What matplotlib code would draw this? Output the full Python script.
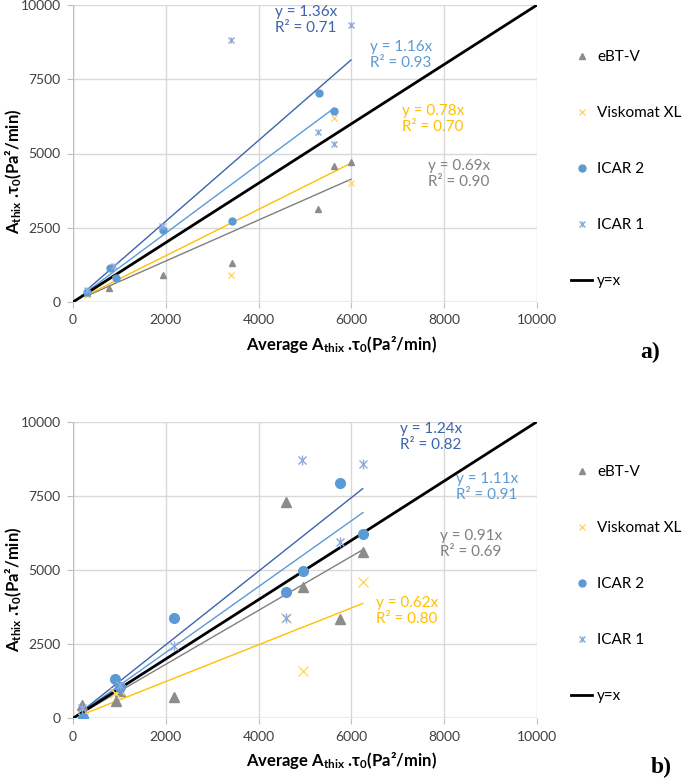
import numpy as np
import matplotlib
matplotlib.use("Agg")
import matplotlib.pyplot as plt
from matplotlib.lines import Line2D

plt.rcParams['font.family'] = ['Lato', 'DejaVu Sans']
plt.rcParams['mathtext.fontset'] = 'custom'
plt.rcParams['mathtext.rm'] = 'Lato'
plt.rcParams['mathtext.bf'] = 'Lato:bold'
plt.rcParams['mathtext.default'] = 'bf'

# ---- panel a) data ----
a_ebt_x = [300, 783, 1947, 3420, 5280, 5618, 5991]
a_ebt_y = [300, 460, 900, 1320, 3117, 4574, 4709]
a_visk_x = [300, 900, 3412, 5618, 5991]
a_visk_y = [250, 780, 908, 6188, 3991]
a_icar2_x = [300, 790, 927, 1947, 3420, 5294, 5618]
a_icar2_y = [350, 1132, 796, 2410, 2724, 7052, 6446]
a_icar1_x = [300, 876, 1918, 3412, 5280, 5618, 5991]
a_icar1_y = [390, 1200, 2567, 8812, 5740, 5325, 9316]
a_slopes = [0.69, 0.78, 1.16, 1.36]
a_r2 = [0.90, 0.70, 0.93, 0.71]

# ---- panel b) data ----
b_ebt_x = [194, 920, 1020, 2184, 4590, 4957, 5761, 6243]
b_ebt_y = [449, 584, 921, 719, 7303, 4438, 3348, 5596]
b_visk_x = [208, 912, 1020, 4590, 4950, 6243]
b_visk_y = [0, 843, 950, 3371, 1596, 4607]
b_icar2_x = [208, 912, 1020, 2177, 4590, 4950, 5747, 6250]
b_icar2_y = [0, 1315, 1067, 3371, 4270, 4978, 7921, 6213]
b_icar1_x = [194, 1020, 2177, 4590, 4943, 5761, 6243]
b_icar1_y = [337, 1124, 2438, 3371, 8708, 5955, 8562]
b_slopes = [0.91, 0.62, 1.11, 1.24]
b_r2 = [0.69, 0.80, 0.91, 0.82]

names = ['eBT-V', 'Viskomat XL', 'ICAR 2', 'ICAR 1']
mk_col = ['#8C8C8C', '#FFD966', '#5B9BD5', '#8EA9DB']
fit_col = ['#7F7F7F', '#FFC000', '#5B9BD5', '#3B64AD']
lab_col = ['#808080', '#FFC000', '#5B9BD5', '#3B64AD']

W, H = 685, 779
fig = plt.figure(figsize=(W / 100, H / 100), dpi=100)


def px_rect(l, t, r, b):
    return [l / W, 1 - b / H, (r - l) / W, (b - t) / H]


def draw_panel(ax, series, slopes, r2s, lab_pos, msize, legend_top, tag, tag_pos, ylab_y, xlab_y):
    ax.set_xlim(0, 10000)
    ax.set_ylim(0, 10000)
    ax.set_xticks(range(0, 10001, 2000))
    ax.set_yticks(range(0, 10001, 2500))
    ax.grid(True, color='#D9D9D9', lw=1)
    ax.set_axisbelow(True)
    for s in ax.spines.values():
        s.set_visible(False)
    ax.tick_params(length=4, color='#BFBFBF', labelsize=10, labelcolor='#404040', pad=5)
    ax.axvline(0, color='#BFBFBF', lw=1, zorder=1)
    ax.axhline(0, color='#BFBFBF', lw=1, zorder=1)

    # y = x
    ax.plot([0, 10000], [0, 10000], color='black', lw=2.0, zorder=3)

    handles = []
    for i, (xs, ys) in enumerate(series):
        xs = np.array(xs); ys = np.array(ys)
        xx = np.array([xs.min(), xs.max()])
        ax.plot(xx, slopes[i] * xx, color=fit_col[i], lw=1.0, zorder=2)
        if i == 0:
            ax.plot(xs, ys, ls='none', marker='^', ms=msize, color=mk_col[i], mec=mk_col[i], zorder=4)
            h = Line2D([], [], ls='none', marker='^', ms=4, color=mk_col[i])
        elif i == 1:
            ax.plot(xs, ys, ls='none', marker='x', ms=msize, color=mk_col[i], mew=1.0, zorder=4)
            h = Line2D([], [], ls='none', marker='x', ms=5, color=mk_col[i], mew=1.0)
        elif i == 2:
            ax.plot(xs, ys, ls='none', marker='o', ms=msize, color=mk_col[i], mec=mk_col[i], zorder=4)
            h = Line2D([], [], ls='none', marker='o', ms=5, color=mk_col[i])
        else:
            ax.plot(xs, ys, ls='none', marker='x', ms=msize - 1, color=mk_col[i], mew=1.0, zorder=4)
            ax.plot(xs, ys, ls='none', marker='|', ms=msize, color=mk_col[i], mew=1.0, zorder=4)
            h = (Line2D([], [], ls='none', marker='x', ms=4, color=mk_col[i], mew=1.0),
                 Line2D([], [], ls='none', marker='|', ms=5, color=mk_col[i], mew=1.0))
        handles.append(h)
        lx, ly = lab_pos[i]
        fig.text(lx / W, 1 - ly / H, 'y = %.2fx\nR² = %.2f' % (slopes[i], r2s[i]),
                 color=lab_col[i], fontsize=11, va='top', ha='left', linespacing=1.2)

    handles.append(Line2D([], [], color='black', lw=2.0))
    labels = names + ['y=x']
    fig.legend(handles, labels, loc='upper left', bbox_to_anchor=(571 / W, 1 - legend_top / H),
               frameon=False, fontsize=11, labelspacing=2.75, handlelength=1.4,
               handletextpad=0.3, borderpad=0, borderaxespad=0)

    ax.set_xlabel(r'Average A$_{thix}$ .τ$_0$(Pa²/min)', fontsize=12, fontweight='bold')
    ax.xaxis.set_label_coords(0.578, xlab_y)
    ax.set_ylabel(r'A$_{thix}$ .τ$_0$(Pa²/min)', fontsize=12, fontweight='bold')
    ax.yaxis.set_label_coords(-0.106, ylab_y)
    fig.text(tag_pos[0] / W, 1 - tag_pos[1] / H, tag, fontsize=17, fontweight='bold',
             family='Liberation Serif', ha='left', va='center')


ax_a = fig.add_axes(px_rect(73, 5, 537, 302))
draw_panel(ax_a,
           [(a_ebt_x, a_ebt_y), (a_visk_x, a_visk_y), (a_icar2_x, a_icar2_y), (a_icar1_x, a_icar1_y)],
           a_slopes, a_r2,
           [(428, 159), (402, 104), (370, 40), (275, 5)],
           5, 50, 'a)', (640, 352), 0.44, -0.108)

ax_b = fig.add_axes(px_rect(73, 421.7, 537, 718.3))
draw_panel(ax_b,
           [(b_ebt_x, b_ebt_y), (b_visk_x, b_visk_y), (b_icar2_x, b_icar2_y), (b_icar1_x, b_icar1_y)],
           b_slopes, b_r2,
           [(440, 529), (376, 596), (456, 472), (400, 422)],
           7, 465, 'b)', (651, 767), 0.435, -0.106)

fig.savefig('out.png', dpi=100)
